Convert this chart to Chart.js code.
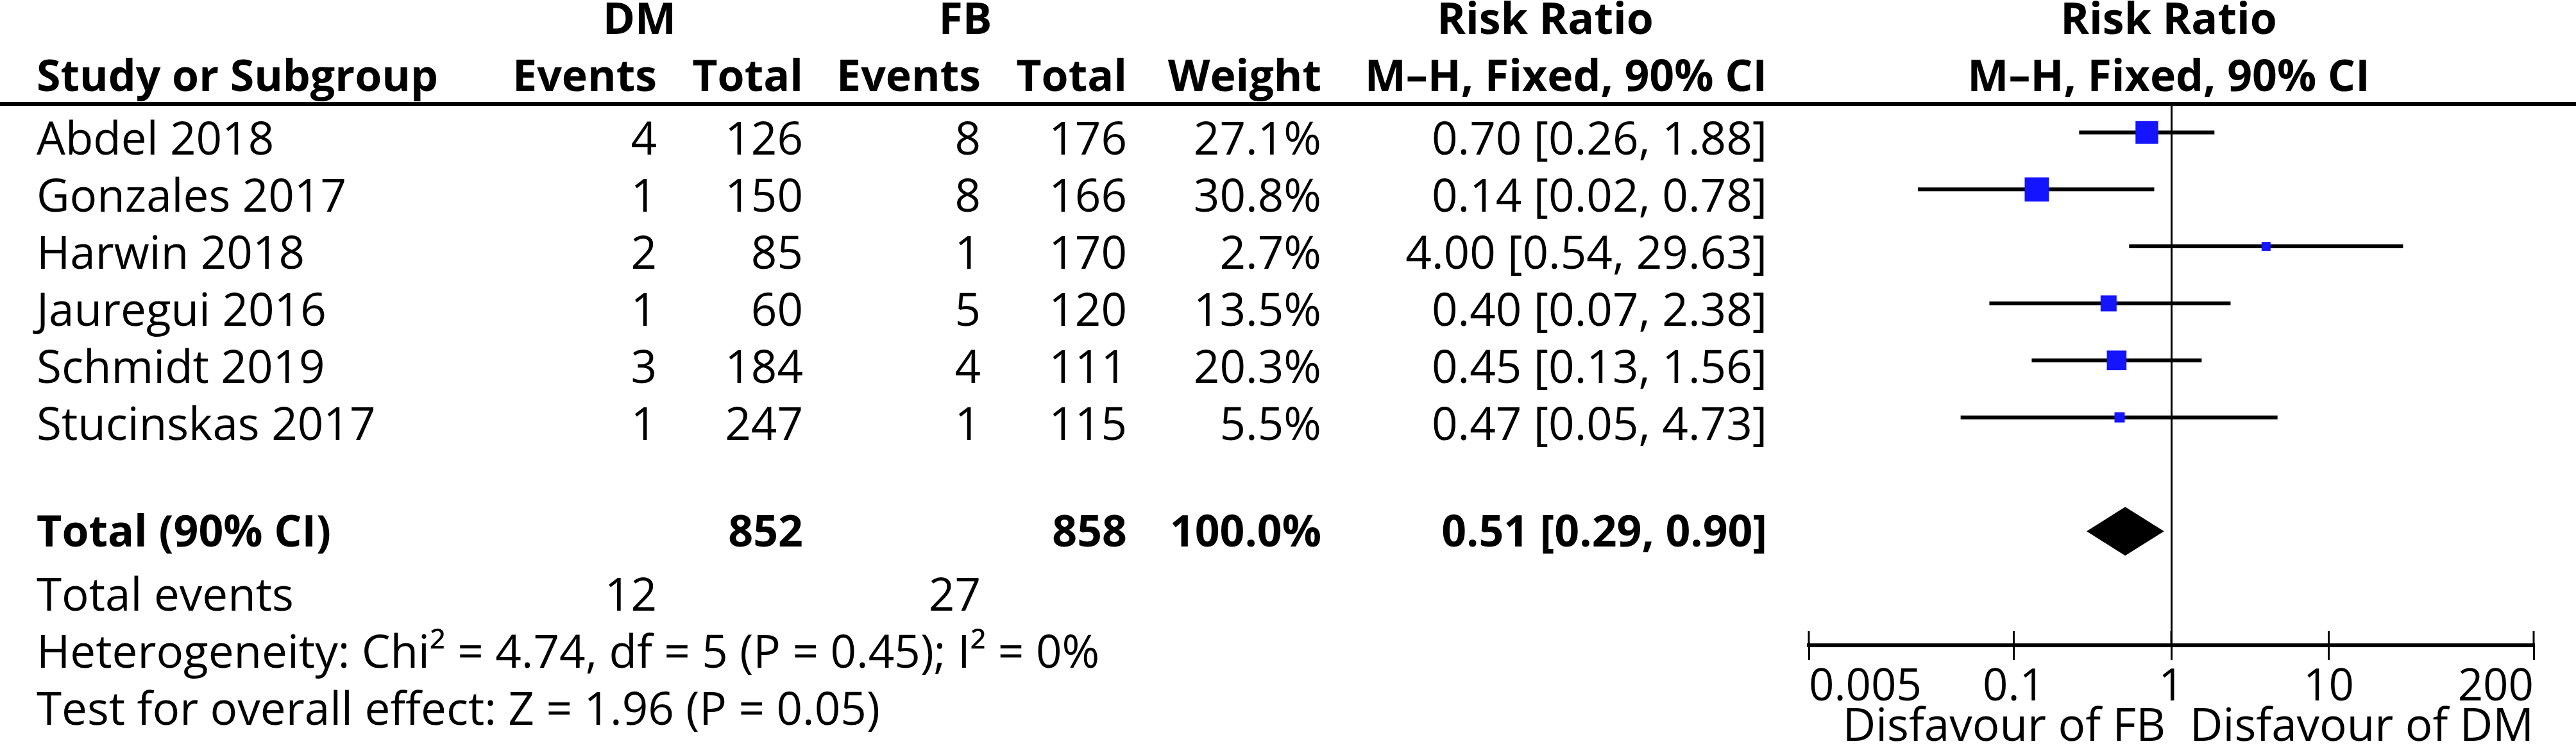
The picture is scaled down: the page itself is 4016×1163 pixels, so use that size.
<!DOCTYPE html>
<html>
<head>
<meta charset="utf-8">
<script src="https://cdn.jsdelivr.net/npm/chart.js@4.4.1/dist/chart.umd.min.js"></script>
<style>
  html, body { margin: 0; padding: 0; background: #fff; }
  #wrap { width: 4016px; height: 1163px; }
</style>
</head>
<body>
<div id="wrap"><canvas id="forest" width="4016" height="1163"></canvas></div>
<script>
// datos
const estudios = ['Abdel 2018', 'Gonzales 2017', 'Harwin 2018', 'Jauregui 2016', 'Schmidt 2019', 'Stucinskas 2017'];
const dmEventos = [4, 1, 2, 1, 3, 1];
const dmTotal = [126, 150, 85, 60, 184, 247];
const fbEventos = [8, 8, 1, 5, 4, 1];
const fbTotal = [176, 166, 170, 120, 111, 115];
const pesos = [27.1, 30.8, 2.7, 13.5, 20.3, 5.5];
const rr = [0.70, 0.14, 4.00, 0.40, 0.45, 0.47];
const rrBajo = [0.26, 0.0246, 0.54, 0.07, 0.13, 0.046];
const rrAlto = [1.88, 0.78, 29.63, 2.38, 1.56, 4.73];

const totalN = [852, 858];
const totalEventos = [12, 27];
const totalPeso = [100.0];
const totalRR = [0.51, 0.29, 0.90]; // estimado, bajo, alto

const TICK_VALUES = [0.005, 0.1, 1, 10, 200];
const TICK_LABELS = ['0.005', '0.1', '1', '10', '200'];

// layout (pixeles)
const AREA = { left: 2820, right: 3950, top: 162, bottom: 1006 };
const COL = [1024, 1252, 1529, 1757, 2060, 2755]; // bordes derechos de columnas
const REG = '71px "Open Sans"';
const BOLD = 'bold 68px "Open Sans"';
const AZUL = '#1414ff';

const fila = i => i;          // filas de estudios 0..5
const FILA_TOTAL = 7;
const FILA_EVENTOS = 8;
const FILA_HET = 9;
const FILA_TEST = 10;

const fmt2 = v => v.toFixed(2);

function texto(ctx, str, x, y, font, align) {
    ctx.font = font;
    ctx.textAlign = align || 'left';
    ctx.textBaseline = 'alphabetic';
    ctx.fillStyle = '#000';
    ctx.fillText(str, x, y);
}

const tablaPlugin = {
    id: 'tabla',
    afterDraw(chart) {
        const ctx = chart.ctx;
        const xs = chart.scales.x, ys = chart.scales.y;
        const top = chart.chartArea.top, bottom = chart.chartArea.bottom;
        const x1 = xs.getPixelForValue(1);
        ctx.save();

        // linea bajo encabezado
        ctx.fillStyle = '#000';
        ctx.fillRect(0, top - 3, chart.width, 6);

        // encabezados
        texto(ctx, 'DM', 997, top - 109, BOLD, 'center');
        texto(ctx, 'FB', 1505, top - 109, BOLD, 'center');
        texto(ctx, 'Risk Ratio', 2409, top - 109, BOLD, 'center');
        texto(ctx, 'Risk Ratio', x1 - 4, top - 109, BOLD, 'center');
        texto(ctx, 'Study or Subgroup', 57, top - 20, BOLD);
        texto(ctx, 'Events', COL[0], top - 20, BOLD, 'right');
        texto(ctx, 'Total', COL[1], top - 20, BOLD, 'right');
        texto(ctx, 'Events', COL[2], top - 20, BOLD, 'right');
        texto(ctx, 'Total', COL[3], top - 20, BOLD, 'right');
        texto(ctx, 'Weight', COL[4], top - 20, BOLD, 'right');
        texto(ctx, 'M–H, Fixed, 90% CI', COL[5], top - 20, BOLD, 'right');
        texto(ctx, 'M–H, Fixed, 90% CI', x1 - 4, top - 20, BOLD, 'center');

        // filas de estudios
        estudios.forEach((nombre, i) => {
            const y = ys.getPixelForValue(fila(i)) + 35;
            texto(ctx, nombre, 57, y, REG);
            texto(ctx, String(dmEventos[i]), COL[0], y, REG, 'right');
            texto(ctx, String(dmTotal[i]), COL[1], y, REG, 'right');
            texto(ctx, String(fbEventos[i]), COL[2], y, REG, 'right');
            texto(ctx, String(fbTotal[i]), COL[3], y, REG, 'right');
            texto(ctx, pesos[i].toFixed(1) + '%', COL[4], y, REG, 'right');
            texto(ctx, `${fmt2(rr[i])} [${fmt2(rrBajo[i])}, ${fmt2(rrAlto[i])}]`, COL[5], y, REG, 'right');
        });

        // total
        const yt = ys.getPixelForValue(FILA_TOTAL) + 24;
        texto(ctx, 'Total (90% CI)', 57, yt, BOLD);
        texto(ctx, String(totalN[0]), COL[1], yt, BOLD, 'right');
        texto(ctx, String(totalN[1]), COL[3], yt, BOLD, 'right');
        texto(ctx, totalPeso[0].toFixed(1) + '%', COL[4], yt, BOLD, 'right');
        texto(ctx, `${fmt2(totalRR[0])} [${fmt2(totalRR[1])}, ${fmt2(totalRR[2])}]`, COL[5], yt, BOLD, 'right');

        const ye = ys.getPixelForValue(FILA_EVENTOS) + 35;
        texto(ctx, 'Total events', 57, ye, REG);
        texto(ctx, String(totalEventos[0]), COL[0], ye, REG, 'right');
        texto(ctx, String(totalEventos[1]), COL[2], ye, REG, 'right');
        texto(ctx, 'Heterogeneity: Chi² = 4.74, df = 5 (P = 0.45); I² = 0%', 57, ys.getPixelForValue(FILA_HET) + 35, REG);
        texto(ctx, 'Test for overall effect: Z = 1.96 (P = 0.05)', 57, ys.getPixelForValue(FILA_TEST) + 35, REG);

        // diamante del total
        const yd = ys.getPixelForValue(FILA_TOTAL);
        ctx.beginPath();
        ctx.moveTo(xs.getPixelForValue(totalRR[1]), yd);
        ctx.lineTo(xs.getPixelForValue(totalRR[0]), yd - 38);
        ctx.lineTo(xs.getPixelForValue(totalRR[2]), yd);
        ctx.lineTo(xs.getPixelForValue(totalRR[0]), yd + 38);
        ctx.closePath();
        ctx.fillStyle = '#000';
        ctx.fill();

        // marcas hacia arriba del eje
        ctx.strokeStyle = '#000';
        ctx.lineWidth = 3;
        xs.ticks.forEach(t => {
            const px = xs.getPixelForValue(t.value);
            ctx.beginPath();
            ctx.moveTo(px, bottom - 22);
            ctx.lineTo(px, bottom);
            ctx.stroke();
        });

        texto(ctx, 'Disfavour of FB', x1 - 9, 1155, REG, 'right');
        texto(ctx, 'Disfavour of DM', x1 + 29, 1155, REG, 'left');
        ctx.restore();
    }
};

const lineas = estudios.map((n, i) => ({
    type: 'line',
    label: n,
    data: [{ x: rrBajo[i], y: fila(i) }, { x: rrAlto[i], y: fila(i) }],
    borderColor: '#000',
    borderWidth: 6,
    pointRadius: 0,
    order: 2
}));

const cuadros = {
    type: 'scatter',
    label: 'RR',
    data: rr.map((v, i) => ({ x: v, y: fila(i) })),
    pointStyle: 'rect',
    pointRadius: pesos.map(w => Math.max(14, 6.8 * Math.sqrt(w)) / Math.SQRT2),
    backgroundColor: AZUL,
    borderWidth: 0,
    order: 0
};

Chart.defaults.font.family = '"Open Sans", sans-serif';
Chart.defaults.color = '#000';

const chart = new Chart(document.getElementById('forest').getContext('2d'), {
    type: 'scatter',
    data: { datasets: [...lineas, cuadros] },
    options: {
        responsive: false,
        animation: false,
        devicePixelRatio: 1,
        layout: { padding: { left: AREA.left, right: 4016 - AREA.right, top: AREA.top, bottom: 40 } },
        plugins: { legend: { display: false }, tooltip: { enabled: false } },
        scales: {
            x: {
                type: 'logarithmic',
                min: 0.005,
                max: 200,
                afterBuildTicks: s => { s.ticks = TICK_VALUES.map(v => ({ value: v })); },
                ticks: {
                    callback: (v, i) => TICK_LABELS[i],
                    align: 'inner',
                    autoSkip: false,
                    maxRotation: 0,
                    color: '#000',
                    font: { size: 69 },
                    padding: 2
                },
                grid: {
                    color: c => (c.tick && c.tick.value === 1) ? '#000' : 'rgba(0,0,0,0)',
                    lineWidth: 3,
                    tickColor: '#000',
                    tickWidth: 3,
                    tickLength: 23
                },
                border: { display: true, color: '#000', width: 6 }
            },
            y: { type: 'linear', min: -0.5, max: 9, reverse: true, display: false }
        }
    },
    plugins: [tablaPlugin]
});

// ajustar el area del grafico a la posicion del original
const ca = chart.chartArea;
const pad = chart.options.layout.padding;
pad.bottom += ca.bottom - AREA.bottom;
pad.top += AREA.top - ca.top;
pad.left += AREA.left - ca.left;
pad.right += ca.right - AREA.right;
chart.update();
</script>
</body>
</html>
